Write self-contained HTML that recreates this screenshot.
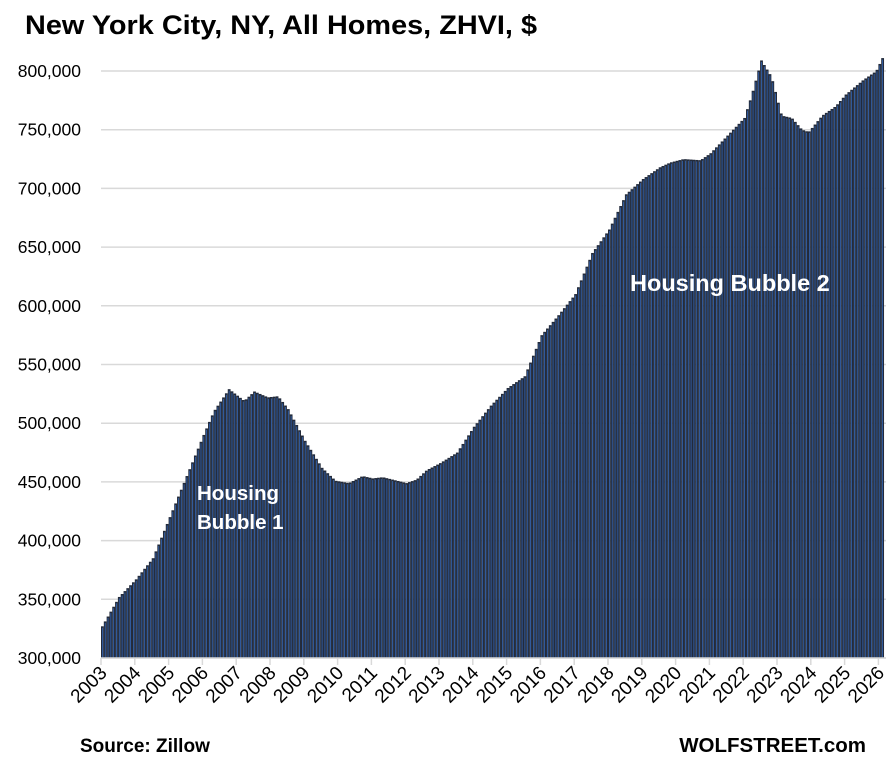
<!DOCTYPE html><html><head><style>body{margin:0;background:#fff}svg{display:block}text{font-family:"Liberation Sans",sans-serif}</style></head><body>
<svg id="s" width="891" height="758" xmlns="http://www.w3.org/2000/svg"></svg>
<script>
const s=document.getElementById('s');let h='';
const Y=v=>658-(v-300000)*587/500000;
h+='<text x="25" y="34" font-size="27" font-weight="bold" fill="#000" textLength="512" lengthAdjust="spacingAndGlyphs">New York City, NY, All Homes, ZHVI, $</text>';
for(let v=300000;v<=800000;v+=50000){const y=Y(v);h+=`<line x1="101" x2="886" y1="${y}" y2="${y}" stroke="#d9d9d9" stroke-width="1.5"/>`;h+=`<text x="81" y="${y+6}" font-size="17.5" text-anchor="end">${v.toLocaleString('en-US')}</text>`;}
const k=[[2003,327],[2003.5,352],[2004,367],[2004.5,385],[2005,420],[2005.5,455],[2006,490],[2006.3,510],[2006.75,529],[2007.2,519],[2007.5,527],[2007.9,522],[2008.2,523],[2008.5,512],[2009,485],[2009.5,462],[2009.9,451],[2010.3,449],[2010.7,455],[2011,453],[2011.3,454],[2012,449],[2012.3,452],[2012.6,460],[2013,466],[2013.5,475],[2014,497],[2014.5,515],[2015,530],[2015.5,540],[2016,575],[2016.5,592],[2017,610],[2017.5,645],[2018,665],[2018.5,695],[2019,708],[2019.5,718],[2019.8,722],[2020.2,725],[2020.7,724],[2021,730],[2021.5,745],[2022,760],[2022.2,778],[2022.5,809],[2022.8,795],[2023.1,762],[2023.4,760],[2023.7,750],[2023.9,748],[2024.3,762],[2024.7,770],[2025,780],[2025.5,792],[2025.9,800],[2026.1,812]];
function val(t){for(let i=0;i<k.length-1;i++){if(t<=k[i+1][0]){const f=(t-k[i][0])/(k[i+1][0]-k[i][0]);return (k[i][1]+f*(k[i+1][1]-k[i][1]))*1000;}}return k[k.length-1][1]*1000;}
const bw=33.8/12,N=278;
for(let i=0;i<N;i++){const x=101+i*bw,y=Y(val(2003+i/12));h+=`<rect x="${x}" y="${y}" width="${bw}" height="${658-y}" fill="#222a3a"/><rect x="${x+1}" y="${y+1.5}" width="0.8" height="${658-y-1.5}" fill="#3566b4"/>`;}
h+='<line x1="101" x2="886" y1="658" y2="658" stroke="#d9d9d9" stroke-width="1.5"/>';
for(let yr=2003;yr<=2026;yr++){const x=101+(yr-2003)*33.8;h+=`<line x1="${x}" x2="${x}" y1="658" y2="665" stroke="#d9d9d9" stroke-width="1.5"/>`;h+=`<text transform="translate(${x+7},674) rotate(-45)" font-size="19" text-anchor="end">${yr}</text>`;}
h+='<text x="630" y="291" font-size="23.5" font-weight="bold" fill="#fff">Housing Bubble 2</text>';
h+='<text x="197" y="500" font-size="20.5" font-weight="bold" fill="#fff">Housing</text><text x="197" y="529" font-size="20.5" font-weight="bold" fill="#fff">Bubble 1</text>';
h+='<text x="80" y="752" font-size="19" font-weight="bold">Source: Zillow</text><text x="866" y="752" font-size="20.5" font-weight="bold" text-anchor="end">WOLFSTREET.com</text>';
s.innerHTML=h;
</script></body></html>
